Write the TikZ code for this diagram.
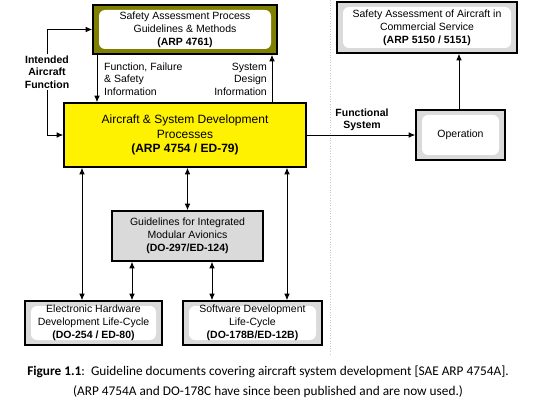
\documentclass[tikz,border=0pt]{standalone}
\usepackage{fontspec}
\setmainfont{Liberation Sans}
\newfontfamily\capfont{Carlito}
\usetikzlibrary{arrows.meta}
\definecolor{boxolive}{RGB}{128,128,0}
\definecolor{boxgray}{RGB}{218,218,218}
\definecolor{guideline}{RGB}{200,200,200}

\begin{document}
\begin{tikzpicture}[x=1pt, y=-1pt,
    doc/.style={draw, line width=1.6pt, fill=boxgray, align=center, inner sep=0pt,
      font=\fontsize{10.5}{12.8}\selectfont},
    inner white/.style={path picture={\fill[white, rounded corners=6pt]
      ([shift={(6pt,-5pt)}]path picture bounding box.north west) rectangle
      ([shift={(-6pt,5pt)}]path picture bounding box.south east);}},
    arr/.style={-{Latex[length=6.5pt,width=5.5pt]}, line width=0.8pt},
    dbl/.style={{Latex[length=6.5pt,width=5.5pt]}-{Latex[length=6.5pt,width=5.5pt]}, line width=0.8pt},
    lbl/.style={font=\fontsize{10.5}{12.5}\selectfont, inner sep=1pt}]
  \useasboundingbox (0,0) rectangle (544,409);

  % dotted divider
  \draw[guideline, dotted, line width=0.6pt] (330,0) -- (330,355);

  % document boxes
  \node[doc, fill=boxolive, inner white, minimum width=184pt, minimum height=49pt] (sap) at (185,29.5)
    {Safety Assessment Process\\Guidelines \& Methods\\\textbf{(ARP 4761)}};
  \node[doc, fill=yellow, minimum width=242pt, minimum height=64pt,
    font=\fontsize{12}{14.5}\selectfont] (arp) at (185,135)
    {Aircraft \& System Development\\Processes\\\textbf{(ARP 4754 / ED-79)}};
  \node[doc, inner white, minimum width=180pt, minimum height=51pt] (sac) at (427,27.5)
    {Safety Assessment of Aircraft in\\Commercial Service\\\textbf{(ARP 5150 / 5151)}};
  \node[doc, inner white, minimum width=89pt, minimum height=50pt] (op) at (460.5,135) {Operation};
  \node[doc, minimum width=151pt, minimum height=50pt] (ima) at (187.5,236)
    {Guidelines for Integrated\\Modular Avionics\\\textbf{(DO-297/ED-124)}};
  \node[doc, inner white, minimum width=137pt, minimum height=44pt] (ehw) at (93.5,323)
    {Electronic Hardware\\Development Life-Cycle\\\textbf{(DO-254 / ED-80)}};
  \node[doc, inner white, minimum width=139pt, minimum height=44pt] (sw) at (252.5,323)
    {Software Development\\Life-Cycle\\\textbf{(DO-178B/ED-12B)}};

  % labels
  \node[lbl, align=center, font=\bfseries\fontsize{10.5}{12.5}\selectfont] (ifn) at (47,72)
    {Intended\\Aircraft\\Function};
  \node[lbl, align=left, anchor=west] (ffs) at (103,79) {Function, Failure\\\& Safety\\Information};
  \node[lbl, align=right, anchor=east] (sdi) at (268,79) {System\\Design\\Information};
  \node[lbl, align=center, font=\bfseries\fontsize{10.5}{12.5}\selectfont] (fsys) at (362,120)
    {Functional\\System};

  % connectors
  \draw[arr] (ifn.north) |- (sap.west);
  \draw[arr] (ifn.south) |- (arp.west);
  \draw[arr] ([xshift=-88pt]sap.south) -- ([xshift=-88pt]arp.north);
  \draw[arr] ([xshift=87pt]arp.north) -- ([xshift=87pt]sap.south);
  \draw[arr] (arp.east) -- (op.west);
  \draw[arr] ([xshift=-1.5pt]op.north) -- ([xshift=-1.5pt]op.north |- sac.south);
  \draw[dbl] ([xshift=-103pt]arp.south) -- ([xshift=-11.5pt]ehw.north);
  \draw[dbl] (ima.north |- arp.south) -- (ima.north);
  \draw[dbl] ([xshift=102pt]arp.south) -- ([xshift=34.5pt]sw.north);
  \draw[dbl] ([xshift=-55.5pt]ima.south) -- ([xshift=38.5pt]ehw.north);
  \draw[dbl] ([xshift=24.5pt]ima.south) -- ([xshift=-40.5pt]sw.north);

  % caption
  \node[font=\capfont\fontsize{13.3}{20}\selectfont, align=center] (cap) at (268,382)
    {\textbf{Figure 1.1}:\ \ Guideline documents covering aircraft system development [SAE ARP 4754A].\\
     (ARP 4754A and DO-178C have since been published and are now used.)};
\end{tikzpicture}
\end{document}
